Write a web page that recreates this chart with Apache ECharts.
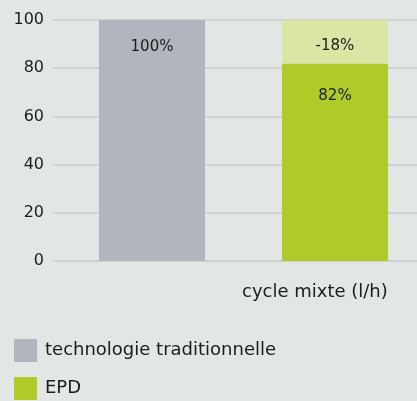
<!DOCTYPE html>
<html>
<head>
<meta charset="utf-8">
<script src="https://cdn.jsdelivr.net/npm/echarts@6/dist/echarts.min.js"></script>
<style>
  html, body { margin: 0; padding: 0; background: #e2e7e3; }
  #chart { width: 417px; height: 401px; }
</style>
</head>
<body>
<div id="chart"></div>
<script>
// data
const categories = ['technologie traditionnelle', 'EPD']
const tradValues = [100]
const epdValues = [82]
const reductionValues = [18]
const barLabels = ['100%', '82%', '-18%']
const yTicks = [0, 20, 40, 60, 80, 100]
const axisTitle = 'cycle mixte (l/h)'

const FONT = 'DejaVu Sans'
const TEXT = '#1c1c1c'

const chart = echarts.init(document.getElementById('chart'))

chart.setOption({
  backgroundColor: '#e2e7e3',
  animation: false,
  textStyle: { fontFamily: FONT },
  // grid 0 draws the split lines, grid 1 holds the bars (one group)
  grid: [
    { left: 53, right: 0, top: 20, height: 241 },
    { left: 70, right: 0, top: 20, height: 241 }
  ],
  xAxis: [
    { type: 'category', gridIndex: 0, data: [axisTitle], show: false },
    {
      type: 'category', gridIndex: 1, data: [axisTitle],
      axisLine: { show: false }, axisTick: { show: false }, axisLabel: { show: false }
    }
  ],
  yAxis: [
    {
      type: 'value', gridIndex: 0, min: yTicks[0], max: yTicks[yTicks.length - 1], interval: 20,
      axisLine: { show: false }, axisTick: { show: false },
      axisLabel: { color: TEXT, fontSize: 16, margin: 9, fontFamily: FONT },
      splitLine: { lineStyle: { color: '#c7cbd0', width: 1.5 } }
    },
    {
      type: 'value', gridIndex: 1, min: 0, max: 100, interval: 20,
      show: false, splitLine: { show: false }
    }
  ],
  legend: {
    orient: 'vertical',
    left: 14,
    top: 339,
    padding: 0,
    itemWidth: 23,
    itemHeight: 23,
    itemGap: 15,
    icon: 'rect',
    textStyle: { color: TEXT, fontSize: 18, fontFamily: FONT, padding: [0, 0, 0, 3] },
    data: categories
  },
  graphic: [
    {
      type: 'text', left: 242, top: 283,
      style: { text: axisTitle, fill: TEXT, font: '18px "' + FONT + '"' }
    }
  ],
  series: [
    {
      name: categories[0], type: 'bar', xAxisIndex: 1, yAxisIndex: 1,
      stack: 'a', barWidth: 106, barGap: '72.6%', data: tradValues,
      itemStyle: { color: '#b1b5bd' },
      label: {
        show: true, position: 'insideTop', distance: 20,
        formatter: barLabels[0], color: TEXT, fontSize: 15, fontFamily: FONT
      }
    },
    {
      name: categories[1], type: 'bar', xAxisIndex: 1, yAxisIndex: 1,
      stack: 'b', barWidth: 106, barGap: '72.6%', data: epdValues,
      itemStyle: { color: '#b0cb29' },
      label: {
        show: true, position: 'insideTop', distance: 25,
        formatter: barLabels[1], color: TEXT, fontSize: 15, fontFamily: FONT
      }
    },
    {
      name: 'reduction', type: 'bar', xAxisIndex: 1, yAxisIndex: 1,
      stack: 'b', barWidth: 106, barGap: '72.6%', data: reductionValues,
      itemStyle: { color: '#d9e6a4' },
      label: {
        show: true, position: 'insideTop', distance: 19,
        formatter: barLabels[2], color: TEXT, fontSize: 15, fontFamily: FONT
      }
    }
  ]
})
</script>
</body>
</html>
